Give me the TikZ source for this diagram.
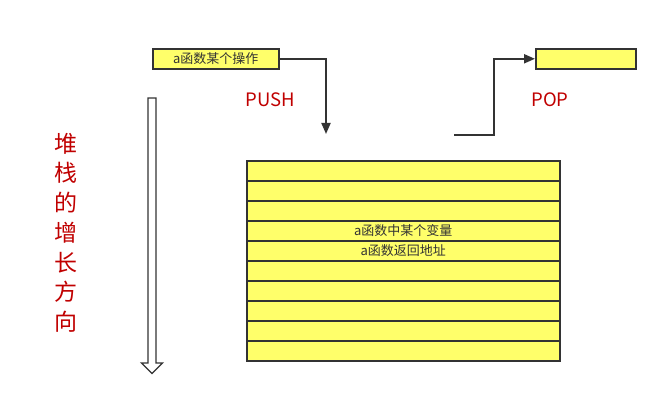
\documentclass[tikz,border=0pt]{standalone}
\usepackage{fontspec}
\setmainfont{Noto Sans CJK SC}
\usetikzlibrary{arrows.meta}
\definecolor{boxyellow}{HTML}{FFFF6A}
\definecolor{edge}{HTML}{333333}
\definecolor{lblred}{HTML}{C00000}
\tikzset{
  ybox/.style={draw=edge, line width=1.6pt, fill=boxyellow, inner sep=0pt, anchor=north west},
  cell/.style={draw=edge, line width=1.6pt, fill=boxyellow, inner sep=0pt, anchor=north west,
    minimum width=313pt, minimum height=20pt, font=\fontsize{13}{13}\selectfont, text=edge},
  conn/.style={draw=edge, line width=2pt, -{Triangle[length=11pt,width=9pt]}},
  redlbl/.style={text=lblred, font=\fontsize{18.5}{18.5}\selectfont},
  vchar/.style={text=lblred, font=\fontsize{23}{23}\selectfont, inner sep=0pt}
}
\begin{document}
\begin{tikzpicture}[x=1pt,y=-1pt]
\useasboundingbox (0,0) rectangle (667,406);
% top boxes
\node[ybox, minimum width=126pt, minimum height=20pt, font=\fontsize{13}{13}\selectfont, text=edge] (op) at (152,48) {a函数某个操作};
\node[ybox, minimum width=100pt, minimum height=20pt] (popbox) at (535,48) {};
% stack
\foreach \i/\t in {0/,1/,2/,3/a函数中某个变量,4/a函数返回地址,5/,6/,7/,8/,9/} {
  \node[cell] (c\i) at (246,{160+20*\i}) {\t};
}
% push connector
\coordinate (pushend) at (326,134);
\draw[conn] (op.east) -| (pushend);
\node[redlbl] (push) at (270.5,100) {PUSH};
% pop connector
\coordinate (popstart) at (454,135);
\draw[conn] (popstart) -- (494,135) |- (popbox.west);
\node[redlbl] (pop) at (550,100) {POP};
% growth arrow (hollow)
\draw[draw=edge, line width=1.3pt, fill=white, line join=miter]
  (148,98) -- (156,98) -- (156,363) -- (162.5,363) -- (152,373.5) -- (141.5,363) -- (148,363) -- cycle;
% vertical label
\foreach \ch [count=\k from 0] in {堆,栈,的,增,长,方,向} {
  \node[vchar] (v\k) at (65.5,{143.5+29.7*\k}) {\ch};
}
\end{tikzpicture}
\end{document}
